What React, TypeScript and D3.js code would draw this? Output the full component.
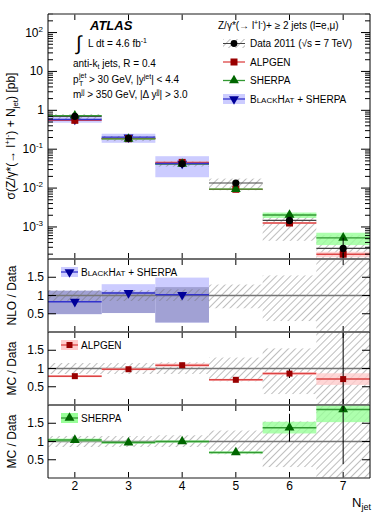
import * as d3 from 'd3';

// jet multiplicity bins
const nJet = [2, 3, 4, 5, 6, 7];

// measured cross section [pb] and relative uncertainties
const dataXs = [0.70, 0.19, 0.042, 0.0135, 0.00147, 0.00028];
const dataStat = [0.01, 0.02, 0.03, 0.06, 0.2, 0.9];
const dataSysUp = [0.15, 0.15, 0.17, 0.3, 0.55, 1.2];
const dataSysDn = [0.15, 0.15, 0.15, 0.35, 0.7, 1.0];

// MC / data ratios
const alpgenRatio = [0.79, 0.98, 1.09, 0.69, 0.86, 0.71];
const alpgenBand = [0.03, 0.03, 0.05, 0.03, 0.04, 0.16];
const alpgenErr = [0.02, 0.02, 0.04, 0.06, 0.12, 1.5];
const sherpaRatio = [1.04, 0.97, 1.0, 0.7, 1.38, 1.88];
const sherpaBand = [0.04, 0.03, 0.03, 0.03, 0.16, 0.35];
const sherpaErr = [0.02, 0.02, 0.03, 0.05, 0.38, 1.5];

// BlackHat+Sherpa NLO (only 2-4 jets)
const bhJets = [2, 3, 4];
const bhRatio = [0.83, 1.07, 1.02];
const bhLightLo = [0.49, 0.52, 0.26];
const bhLightHi = [1.13, 1.31, 1.49];
const bhDarkLo = [0.49, 0.52, 0.26];
const bhDarkHi = [1.13, 1.1, 1.23];
const bhMainLo = [0.48, 0.146, 0.019];
const bhMainHi = [0.71, 0.25, 0.066];

const mainTicks = [-3, -2, -1, 0, 1, 2];
const ratioTicks = [0.5, 1, 1.5];

const FONT = 'Liberation Sans, Arial, sans-serif';
const RED = '#990000';
const RED_LINE = '#dd4444';
const RED_BAND = '#ffcccc';
const GREEN = '#006600';
const GREEN_LINE = '#339933';
const GREEN_BAND = '#99ff99';
const BLUE = '#000099';
const BLUE_LINE = '#3333cc';

const x = d3.scaleLinear().domain([1.5, 7.5]).range([48, 370]);
const yMain = d3.scaleLog().domain([1.5e-4, 300]).range([259, 14]);
const ySafe = (v: number) => yMain(Math.max(v, 1e-7));

const panels = [
  { top: 259, bottom: 332 },
  { top: 332, bottom: 405 },
  { top: 405, bottom: 478 },
];
const yR = panels.map((p) => d3.scaleLinear().domain([0, 2]).range([p.bottom, p.top]));

const triUp = d3.symbol(d3.symbolTriangle).size(42)() as string;
const square = (cx: number, cy: number, s = 7) => (
  <rect x={cx - s / 2} y={cy - s / 2} width={s} height={s} fill={RED} />
);

function BH({ size = 10 }: { size?: number }) {
  const small = size * 0.8;
  return (
    <>
      <tspan>B</tspan>
      <tspan fontSize={small}>LACK</tspan>
      <tspan>H</tspan>
      <tspan fontSize={small}>AT</tspan>
      <tspan> + SHERPA</tspan>
    </>
  );
}

function Frame({ top, bottom, log }: { top: number; bottom: number; log?: boolean }) {
  const tl = 6;
  const ticks: JSX.Element[] = [];
  nJet.forEach((n) => {
    ticks.push(<line key={'t' + n} x1={x(n)} x2={x(n)} y1={top} y2={top + tl} stroke="#000" />);
    ticks.push(<line key={'b' + n} x1={x(n)} x2={x(n)} y1={bottom} y2={bottom - tl} stroke="#000" />);
  });
  if (log) {
    for (let k = -4; k <= 2; k++) {
      for (let m = 1; m <= 9; m++) {
        const v = m * Math.pow(10, k);
        if (v < 1.5e-4 || v > 300) continue;
        const len = m === 1 ? 9 : 5;
        ticks.push(<line key={`l${k}${m}`} x1={48} x2={48 + len} y1={yMain(v)} y2={yMain(v)} stroke="#000" />);
        ticks.push(<line key={`r${k}${m}`} x1={370} x2={370 - len} y1={yMain(v)} y2={yMain(v)} stroke="#000" />);
      }
    }
  }
  return (
    <g>
      {ticks}
      <line x1={48} x2={370} y1={top} y2={top} stroke="#666" strokeWidth={1.5} />
      <line x1={48} x2={370} y1={bottom} y2={bottom} stroke="#666" strokeWidth={1.5} />
      <line x1={48} x2={48} y1={top} y2={bottom} stroke="#000" />
      <line x1={370} x2={370} y1={top} y2={bottom} stroke="#000" />
    </g>
  );
}

function RatioHatch({ y, clip }: { y: d3.ScaleLinear<number, number>; clip: string }) {
  return (
    <g clipPath={`url(#${clip})`}>
      {nJet.map((n, i) => (
        <rect
          key={n}
          x={x(n - 0.5)}
          width={x(n + 0.5) - x(n - 0.5)}
          y={y(1 + dataSysUp[i])}
          height={y(1 - dataSysDn[i]) - y(1 + dataSysUp[i])}
          fill="url(#hatch)"
        />
      ))}
      <line x1={48} x2={370} y1={y(1)} y2={y(1)} stroke="#777" strokeWidth={1.5} />
    </g>
  );
}

function RatioAxis({ y }: { y: d3.ScaleLinear<number, number> }) {
  return (
    <g fontFamily={FONT} fontSize={12}>
      {ratioTicks.map((t) => (
        <g key={t}>
          <line x1={48} x2={56} y1={y(t)} y2={y(t)} stroke="#000" />
          <line x1={370} x2={362} y1={y(t)} y2={y(t)} stroke="#000" />
          <text x={44} y={y(t) + 4} textAnchor="end">{t}</text>
        </g>
      ))}
    </g>
  );
}

function McRatio({
  y, ratio, band, err, line, fill, marker, clip,
}: {
  y: d3.ScaleLinear<number, number>; ratio: number[]; band: number[]; err: number[];
  line: string; fill: string; marker: 'sq' | 'tri'; clip: string;
}) {
  return (
    <g clipPath={`url(#${clip})`}>
      {nJet.map((n, i) => (
        <g key={n}>
          <rect x={x(n - 0.5)} width={x(n + 0.5) - x(n - 0.5)} y={y(ratio[i] + band[i])}
            height={y(ratio[i] - band[i]) - y(ratio[i] + band[i])} fill={fill} opacity={0.8} />
          <line x1={x(n - 0.5)} x2={x(n + 0.5)} y1={y(ratio[i])} y2={y(ratio[i])} stroke={line} strokeWidth={1.5} />
          <line x1={x(n)} x2={x(n)} y1={y(ratio[i] + err[i])} y2={y(ratio[i] - err[i])} stroke="#000" />
          {marker === 'sq'
            ? square(x(n), y(ratio[i]), 6)
            : <path d={triUp} transform={`translate(${x(n)},${y(ratio[i])})`} fill={GREEN} />}
        </g>
      ))}
    </g>
  );
}

export default function App() {
  const yN = yR[0];
  const yA = yR[1];
  const yS = yR[2];
  const alpgenXs = dataXs.map((d, i) => d * alpgenRatio[i]);
  const sherpaXs = dataXs.map((d, i) => d * sherpaRatio[i]);
  const bhXs = bhJets.map((n, i) => dataXs[nJet.indexOf(n)] * bhRatio[i]);
  const bw = x(2.5) - x(1.5);

  return (
    <svg width={390} height={520} style={{ position: 'absolute', left: 0, top: 0, background: '#fff' }}
      fontFamily={FONT}>
      <defs>
        <pattern id="hatch" patternUnits="userSpaceOnUse" width={5} height={5} patternTransform="rotate(45)">
          <line x1={0} y1={0} x2={0} y2={5} stroke="#6f6f6f" strokeWidth={0.9} />
        </pattern>
        <clipPath id="cMain"><rect x={48} y={14} width={322} height={245} /></clipPath>
        {panels.map((p, i) => (
          <clipPath key={i} id={'cR' + i}><rect x={48} y={p.top} width={322} height={p.bottom - p.top} /></clipPath>
        ))}
      </defs>

      {/* ---------- main panel ---------- */}
      <g clipPath="url(#cMain)">
        {bhJets.map((n, i) => (
          <rect key={'bh' + n} x={x(n - 0.5)} width={bw} y={yMain(bhMainHi[i])}
            height={yMain(bhMainLo[i]) - yMain(bhMainHi[i])} fill="#ccccff" />
        ))}
        {nJet.map((n, i) => (
          <g key={'d' + n}>
            <rect x={x(n - 0.5)} width={bw} y={ySafe(dataXs[i] * (1 + dataSysUp[i]))}
              height={ySafe(dataXs[i] * (1 - dataSysDn[i])) - ySafe(dataXs[i] * (1 + dataSysUp[i]))}
              fill="url(#hatch)" />
            <rect x={x(n - 0.5)} width={bw} y={ySafe(alpgenXs[i] * (1 + alpgenBand[i]))}
              height={ySafe(alpgenXs[i] * (1 - alpgenBand[i])) - ySafe(alpgenXs[i] * (1 + alpgenBand[i]))}
              fill={RED_BAND} opacity={0.8} />
            <rect x={x(n - 0.5)} width={bw} y={ySafe(sherpaXs[i] * (1 + sherpaBand[i]))}
              height={ySafe(sherpaXs[i] * (1 - sherpaBand[i])) - ySafe(sherpaXs[i] * (1 + sherpaBand[i]))}
              fill={GREEN_BAND} opacity={0.8} />
            <line x1={x(n - 0.5)} x2={x(n + 0.5)} y1={yMain(dataXs[i])} y2={yMain(dataXs[i])} stroke="#444" strokeWidth={1.2} />
            <line x1={x(n - 0.5)} x2={x(n + 0.5)} y1={yMain(alpgenXs[i])} y2={yMain(alpgenXs[i])} stroke={RED_LINE} strokeWidth={1.3} />
            <line x1={x(n - 0.5)} x2={x(n + 0.5)} y1={yMain(sherpaXs[i])} y2={yMain(sherpaXs[i])} stroke={GREEN_LINE} strokeWidth={1.3} />
          </g>
        ))}
        {bhJets.map((n, i) => (
          <g key={'bhl' + n}>
            <line x1={x(n - 0.5)} x2={x(n + 0.5)} y1={yMain(bhXs[i])} y2={yMain(bhXs[i])} stroke={BLUE_LINE} strokeWidth={1.3} />
            <path d={triUp} transform={`translate(${x(n)},${yMain(bhXs[i])}) rotate(180)`} fill={BLUE} />
          </g>
        ))}
        {nJet.map((n, i) => (
          <g key={'m' + n}>
            {square(x(n), yMain(alpgenXs[i]))}
            <path d={triUp} transform={`translate(${x(n)},${yMain(sherpaXs[i])})`} fill={GREEN} />
            <line x1={x(n)} x2={x(n)} y1={ySafe(dataXs[i] * (1 + dataStat[i]))}
              y2={ySafe(dataXs[i] * (1 - dataStat[i]))} stroke="#000" />
            <circle cx={x(n)} cy={yMain(dataXs[i])} r={3.6} fill="#000" />
          </g>
        ))}
      </g>
      <Frame top={14} bottom={259} log />
      <g fontSize={12}>
        {mainTicks.map((k) => (
          <text key={k} x={k === 0 ? 44 : 43} y={yMain(Math.pow(10, k)) + 4} textAnchor="end">
            {k === 0 ? '1' : k === 1 ? '10' : (
              <>10<tspan fontSize={8} dy={-5}>{k}</tspan></>
            )}
          </text>
        ))}
      </g>
      <text transform="translate(15,136) rotate(-90)" textAnchor="middle" fontSize={12}>
        σ(Z/γ*(→ l<tspan fontSize={8} dy={-5}>+</tspan><tspan dy={5}>l</tspan>
        <tspan fontSize={8} dy={-5}>-</tspan><tspan dy={5}>) + N</tspan>
        <tspan fontSize={8} dy={3}>jet</tspan><tspan dy={-3}>) [pb]</tspan>
      </text>

      {/* labels */}
      <text x={90} y={30} fontSize={13} fontWeight="bold" fontStyle="italic">ATLAS</text>
      <text x={76} y={50} fontSize={20}>∫</text>
      <text x={88} y={47} fontSize={10}>L dt = 4.6 fb<tspan fontSize={7} dy={-4}>-1</tspan></text>
      <text x={73} y={67} fontSize={10}>anti-k<tspan fontSize={7} dy={2}>t</tspan><tspan dy={-2}> jets, R = 0.4</tspan></text>
      <text x={73} y={83} fontSize={10}>p</text>
      <text x={79} y={78} fontSize={7}>jet</text>
      <text x={79} y={86} fontSize={7}>T</text>
      <text x={89} y={83} fontSize={10}>
        &gt; 30 GeV, |y<tspan fontSize={7} dy={-4}>jet</tspan><tspan dy={4}>| &lt; 4.4</tspan>
      </text>
      <text x={73} y={98} fontSize={10}>
        m<tspan fontSize={7} dy={-4}>jj</tspan><tspan dy={4}> &gt; 350 GeV, |Δ y</tspan>
        <tspan fontSize={7} dy={-4}>jj</tspan><tspan dy={4}>| &gt; 3.0</tspan>
      </text>

      {/* legend */}
      <g fontSize={10}>
        <text x={218} y={29}>Z/γ*(→ l<tspan fontSize={7} dy={-4}>+</tspan><tspan dy={4}>l</tspan>
          <tspan fontSize={7} dy={-4}>-</tspan><tspan dy={4}>)+ ≥ 2 jets (l=e,μ)</tspan></text>
        <rect x={223} y={39} width={22} height={9} fill="url(#hatch)" />
        <line x1={223} x2={245} y1={43.5} y2={43.5} stroke="#444" />
        <circle cx={234} cy={43.5} r={3.4} fill="#000" />
        <text x={250} y={47}>Data 2011 (√s = 7 TeV)</text>
        <line x1={223} x2={245} y1={62} y2={62} stroke={RED_LINE} strokeWidth={1.3} />
        {square(234, 62)}
        <text x={250} y={66}>ALPGEN</text>
        <line x1={223} x2={245} y1={80.5} y2={80.5} stroke={GREEN_LINE} strokeWidth={1.3} />
        <path d={triUp} transform="translate(234,80.5)" fill={GREEN} />
        <text x={250} y={84}>SHERPA</text>
        <rect x={223} y={94} width={22} height={10} fill="#ccccff" />
        <line x1={223} x2={245} y1={99} y2={99} stroke={BLUE_LINE} strokeWidth={1.3} />
        <path d={triUp} transform="translate(234,99) rotate(180)" fill={BLUE} />
        <text x={250} y={103}><BH /></text>
      </g>

      {/* ---------- NLO / Data ---------- */}
      <g clipPath="url(#cR0)">
        {bhJets.map((n, i) => (
          <g key={n}>
            <rect x={x(n - 0.5)} width={bw} y={yN(bhLightHi[i])} height={yN(bhLightLo[i]) - yN(bhLightHi[i])} fill="#ccccff" />
            <rect x={x(n - 0.5)} width={bw} y={yN(bhDarkHi[i])} height={yN(bhDarkLo[i]) - yN(bhDarkHi[i])} fill="#9999cc" opacity={0.85} />
          </g>
        ))}
      </g>
      <RatioHatch y={yN} clip="cR0" />
      <g clipPath="url(#cR0)">
        {bhJets.map((n, i) => (
          <g key={n}>
            <line x1={x(n - 0.5)} x2={x(n + 0.5)} y1={yN(bhRatio[i])} y2={yN(bhRatio[i])} stroke={BLUE_LINE} strokeWidth={1.5} />
            <path d={triUp} transform={`translate(${x(n)},${yN(bhRatio[i])}) rotate(180)`} fill={BLUE} />
          </g>
        ))}
      </g>
      <Frame top={259} bottom={332} />
      <RatioAxis y={yN} />
      <rect x={61} y={267} width={17} height={10} fill="#ccccff" />
      <line x1={61} x2={78} y1={272} y2={272} stroke={BLUE_LINE} strokeWidth={1.3} />
      <path d={triUp} transform="translate(69.5,272) rotate(180)" fill={BLUE} />
      <text x={81} y={276} fontSize={10}><BH /></text>
      <text transform={`translate(16,${(259 + 332) / 2}) rotate(-90)`} textAnchor="middle" fontSize={12}>NLO / Data</text>

      {/* ---------- ALPGEN / Data ---------- */}
      <RatioHatch y={yA} clip="cR1" />
      <McRatio y={yA} ratio={alpgenRatio} band={alpgenBand} err={alpgenErr} line={RED_LINE} fill={RED_BAND} marker="sq" clip="cR1" />
      <Frame top={332} bottom={405} />
      <RatioAxis y={yA} />
      <rect x={61} y={340} width={17} height={10} fill={RED_BAND} />
      <line x1={61} x2={78} y1={345} y2={345} stroke={RED_LINE} strokeWidth={1.3} />
      {square(69.5, 345, 6)}
      <text x={81} y={349} fontSize={10}>ALPGEN</text>
      <text transform={`translate(16,${(332 + 405) / 2}) rotate(-90)`} textAnchor="middle" fontSize={12}>MC / Data</text>

      {/* ---------- SHERPA / Data ---------- */}
      <RatioHatch y={yS} clip="cR2" />
      <McRatio y={yS} ratio={sherpaRatio} band={sherpaBand} err={sherpaErr} line={GREEN_LINE} fill={GREEN_BAND} marker="tri" clip="cR2" />
      <Frame top={405} bottom={478} />
      <RatioAxis y={yS} />
      <rect x={61} y={413} width={17} height={10} fill={GREEN_BAND} />
      <line x1={61} x2={78} y1={418} y2={418} stroke={GREEN_LINE} strokeWidth={1.3} />
      <path d={triUp} transform="translate(69.5,418)" fill={GREEN} />
      <text x={81} y={422} fontSize={10}>SHERPA</text>
      <text transform={`translate(16,${(405 + 478) / 2}) rotate(-90)`} textAnchor="middle" fontSize={12}>MC / Data</text>

      {/* x axis */}
      <g fontSize={12}>
        {nJet.map((n) => (
          <text key={n} x={x(n)} y={490} textAnchor="middle">{n}</text>
        ))}
        <text x={352} y={507} fontSize={13}>N<tspan fontSize={9} dy={3}>jet</tspan></text>
      </g>
    </svg>
  );
}
